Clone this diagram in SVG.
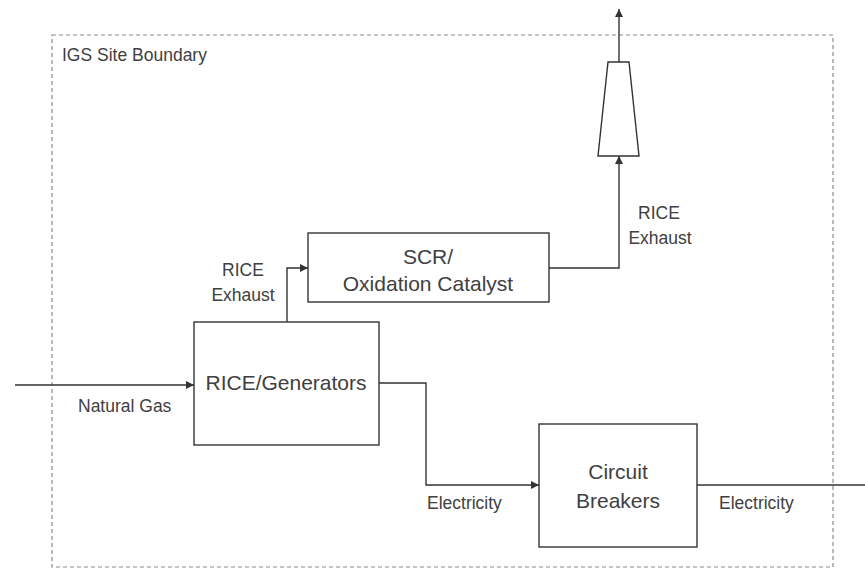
<svg xmlns="http://www.w3.org/2000/svg" width="865" height="570" viewBox="0 0 865 570">
<style>
.box{fill:#fff;stroke:#333;stroke-width:1.4}
.ln{fill:none;stroke:#333;stroke-width:1.4}
.t{font-family:"Liberation Sans",Arial,sans-serif;fill:#404040}
.lb{font-size:17.5px}
.bx{font-size:21px;text-anchor:middle}
.bd{fill:none;stroke:#8a8a8a;stroke-width:1.2;stroke-dasharray:4 3}
</style>
<defs>
<marker id="ah" viewBox="0 0 10 10" refX="10" refY="5" markerWidth="8" markerHeight="8" markerUnits="userSpaceOnUse" orient="auto">
<path d="M0,0 L10,5 L0,10 z" fill="#333"/>
</marker>
</defs>
<rect width="865" height="570" fill="#fff"/>
<g id="boundary">
<rect class="bd" x="52" y="35" width="781" height="532"/>
<text class="t lb" x="62" y="61">IGS Site Boundary</text>
</g>
<g id="connectors">
<path class="ln" d="M15,385 H194" marker-end="url(#ah)"/>
<path class="ln" d="M287,322 V268 H308" marker-end="url(#ah)"/>
<path class="ln" d="M549,268 H619 V156" marker-end="url(#ah)"/>
<path class="ln" d="M619,62 V9" marker-end="url(#ah)"/>
<path class="ln" d="M379,383 H426 V485 H539" marker-end="url(#ah)"/>
<path class="ln" d="M697,485 H865"/>
<text class="t lb" x="78" y="412">Natural Gas</text>
<text class="t lb" x="243" y="276" text-anchor="middle">RICE</text>
<text class="t lb" x="243" y="301" text-anchor="middle">Exhaust</text>
<text class="t lb" x="659" y="219" text-anchor="middle">RICE</text>
<text class="t lb" x="660" y="244" text-anchor="middle">Exhaust</text>
<text class="t lb" x="427" y="509">Electricity</text>
<text class="t lb" x="719" y="509">Electricity</text>
</g>
<g id="stack">
<polygon class="box" points="608,62 629,62 639,156 598,156"/>
</g>
<g id="scr">
<rect class="box" x="308" y="233" width="241" height="69"/>
<text class="t bx" x="428" y="264">SCR/</text>
<text class="t bx" x="428" y="291">Oxidation Catalyst</text>
</g>
<g id="rice">
<rect class="box" x="194" y="322" width="185" height="123"/>
<text class="t bx" x="286" y="390">RICE/Generators</text>
</g>
<g id="breakers">
<rect class="box" x="539" y="424" width="158" height="123"/>
<text class="t bx" x="618" y="479">Circuit</text>
<text class="t bx" x="618" y="508">Breakers</text>
</g>
</svg>
